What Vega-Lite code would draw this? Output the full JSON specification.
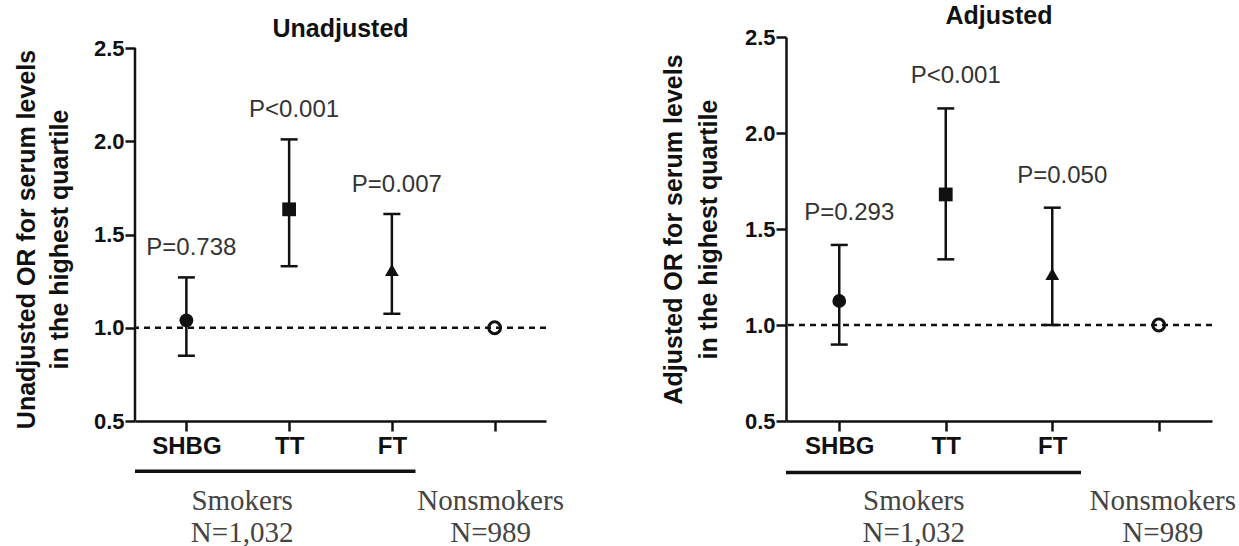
{
  "$schema": "https://vega.github.io/schema/vega-lite/v6.json",
  "background": "white",
  "padding": {"left": 14, "top": 4, "right": 0, "bottom": 0},
  "spacing": 97,
  "config": {
    "view": {"stroke": null},
    "font": "Liberation Sans",
    "axis": {"domainColor": "#111", "domainWidth": 2.5, "tickColor": "#111", "tickWidth": 2.5, "tickSize": 10, "labelColor": "#111", "titleColor": "#111", "grid": false, "labelFont": "Liberation Sans", "titleFont": "Liberation Sans"},
    "title": {"font": "Liberation Sans", "fontSize": 25, "fontWeight": "bold", "color": "#111", "frame": "group"},
    "style": {"guide-title": {"lineBreak": "\n"}}
  },
  "datasets": {
    "unadj": [
      {"x": 1, "marker": "SHBG", "or": 1.04, "lo": 0.85, "hi": 1.27, "p": "P=0.738"},
      {"x": 2, "marker": "TT", "or": 1.635, "lo": 1.33, "hi": 2.01, "p": "P<0.001"},
      {"x": 3, "marker": "FT", "or": 1.31, "lo": 1.075, "hi": 1.61, "p": "P=0.007"},
      {"x": 4, "marker": "Nonsmokers", "or": 1.0, "lo": null, "hi": null, "p": ""}
    ],
    "adj": [
      {"x": 1, "marker": "SHBG", "or": 1.125, "lo": 0.898, "hi": 1.417, "p": "P=0.293"},
      {"x": 2, "marker": "TT", "or": 1.68, "lo": 1.342, "hi": 2.128, "p": "P<0.001"},
      {"x": 3, "marker": "FT", "or": 1.266, "lo": 1.0, "hi": 1.611, "p": "P=0.050"},
      {"x": 4, "marker": "Nonsmokers", "or": 1.0, "lo": null, "hi": null, "p": ""}
    ],
    "groups": [
      {"x": 2, "group": "Smokers", "label": "Smokers\nN=1,032"},
      {"x": 4, "group": "Nonsmokers", "label": "Nonsmokers\nN=989"}
    ],
    "ref": [{"ref": 1.0}]
  },
  "hconcat": [
    {
      "title": {"text": "Unadjusted", "offset": -5},
      "width": 411,
      "height": 384,
      "layer": [
        {
          "data": {"name": "ref"},
          "mark": {"type": "rule", "strokeDash": [6, 5], "strokeWidth": 2.5, "color": "#111"},
          "encoding": {"y": {"field": "ref", "type": "quantitative", "scale": {"domain": [0.5, 2.559]}}}
        },
        {
          "data": {"name": "ref"},
          "mark": {"type": "rule", "strokeWidth": 2.5, "color": "#111"},
          "encoding": {
            "x": {"datum": 0.5, "type": "quantitative", "scale": {"domain": [0.5, 4.5]}},
            "y": {"datum": 0.5, "type": "quantitative", "scale": {"domain": [0.5, 2.559]}},
            "y2": {"datum": 2.5}
          }
        },
        {
          "data": {"name": "unadj"},
          "transform": [{"filter": "datum.lo != null"}],
          "mark": {"type": "rule", "strokeWidth": 2.5, "color": "#111"},
          "encoding": {
            "x": {"field": "x", "type": "quantitative", "scale": {"domain": [0.5, 4.5]}},
            "y": {"field": "lo", "type": "quantitative", "scale": {"domain": [0.5, 2.559]}},
            "y2": {"field": "hi"}
          }
        },
        {
          "data": {"name": "unadj"},
          "transform": [{"filter": "datum.lo != null"}],
          "mark": {"type": "tick", "orient": "horizontal", "size": 17, "thickness": 2.5, "color": "#111", "opacity": 1},
          "encoding": {
            "x": {"field": "x", "type": "quantitative", "scale": {"domain": [0.5, 4.5]}},
            "y": {"field": "lo", "type": "quantitative", "scale": {"domain": [0.5, 2.559]}}
          }
        },
        {
          "data": {"name": "unadj"},
          "transform": [{"filter": "datum.lo != null"}],
          "mark": {"type": "tick", "orient": "horizontal", "size": 17, "thickness": 2.5, "color": "#111", "opacity": 1},
          "encoding": {
            "x": {"field": "x", "type": "quantitative", "scale": {"domain": [0.5, 4.5]}},
            "y": {"field": "hi", "type": "quantitative", "scale": {"domain": [0.5, 2.559]}}
          }
        },
        {
          "data": {"name": "unadj"},
          "transform": [{"filter": "datum.marker != 'Nonsmokers'"}],
          "mark": {"type": "point", "filled": true, "color": "#111", "opacity": 1, "size": 190},
          "encoding": {
            "x": {"field": "x", "type": "quantitative", "scale": {"domain": [0.5, 4.5]},
              "axis": {"values": [1, 2, 3, 4], "labelExpr": "datum.value == 1 ? 'SHBG' : datum.value == 2 ? 'TT' : datum.value == 3 ? 'FT' : ''", "title": null, "labelFontSize": 24, "labelFontWeight": "bold", "labelPadding": 3}},
            "y": {"field": "or", "type": "quantitative", "scale": {"domain": [0.5, 2.559]},
              "axis": {"values": [0.5, 1, 1.5, 2, 2.5], "format": ".1f", "domain": false, "title": "Unadjusted OR for serum levels\nin the highest quartile", "titleFontSize": 25, "titleFontWeight": "bold", "titleLineHeight": 33, "titlePadding": 21, "titleY": 202, "labelFontSize": 22, "labelFontWeight": "bold", "labelPadding": 1}},
            "shape": {"field": "marker", "type": "nominal", "scale": {"domain": ["SHBG", "TT", "FT"], "range": ["circle", "square", "triangle-up"]}, "legend": null}
          }
        },
        {
          "data": {"name": "unadj"},
          "transform": [{"filter": "datum.marker == 'Nonsmokers'"}],
          "mark": {"type": "point", "filled": false, "color": "#111", "strokeWidth": 3, "opacity": 1, "size": 140},
          "encoding": {
            "x": {"field": "x", "type": "quantitative", "scale": {"domain": [0.5, 4.5]}},
            "y": {"field": "or", "type": "quantitative", "scale": {"domain": [0.5, 2.559]}}
          }
        },
        {
          "data": {"name": "unadj"},
          "transform": [{"filter": "datum.p != ''"}],
          "mark": {"type": "text", "fontSize": 24, "color": "#333", "dy": -29, "dx": 5, "baseline": "middle", "font": "Liberation Sans"},
          "encoding": {
            "x": {"field": "x", "type": "quantitative", "scale": {"domain": [0.5, 4.5]}},
            "y": {"field": "hi", "type": "quantitative", "scale": {"domain": [0.5, 2.559]}},
            "text": {"field": "p"}
          }
        },
        {
          "data": {"name": "groups"},
          "transform": [{"filter": "datum.group == 'Smokers'"}],
          "mark": {"type": "rule", "strokeWidth": 3.5, "color": "#111"},
          "encoding": {
            "x": {"datum": 0.5, "type": "quantitative", "scale": {"domain": [0.5, 4.5]}},
            "x2": {"datum": 3.23},
            "y": {"datum": 0.23, "type": "quantitative", "scale": {"domain": [0.5, 2.559]}}
          }
        },
        {
          "data": {"name": "groups"},
          "transform": [{"filter": "datum.group == 'Smokers'"}],
          "mark": {"type": "text", "font": "Liberation Serif", "fontSize": 29, "color": "#444", "lineBreak": "\n", "lineHeight": 32, "baseline": "alphabetic", "dy": 89, "dx": -47},
          "encoding": {
            "x": {"field": "x", "type": "quantitative", "scale": {"domain": [0.5, 4.5]}},
            "y": {"datum": 0.5, "type": "quantitative", "scale": {"domain": [0.5, 2.559]}},
            "text": {"field": "label"}
          }
        },
        {
          "data": {"name": "groups"},
          "transform": [{"filter": "datum.group == 'Nonsmokers'"}],
          "mark": {"type": "text", "font": "Liberation Serif", "fontSize": 29, "color": "#444", "lineBreak": "\n", "lineHeight": 32, "baseline": "alphabetic", "dy": 89, "dx": -4},
          "encoding": {
            "x": {"field": "x", "type": "quantitative", "scale": {"domain": [0.5, 4.5]}},
            "y": {"datum": 0.5, "type": "quantitative", "scale": {"domain": [0.5, 2.559]}},
            "text": {"field": "label"}
          }
        }
      ]
    },
    {
      "title": {"text": "Adjusted", "offset": -3},
      "width": 426,
      "height": 384,
      "layer": [
        {
          "data": {"name": "ref"},
          "mark": {"type": "rule", "strokeDash": [6, 5], "strokeWidth": 2.5, "color": "#111"},
          "encoding": {"y": {"field": "ref", "type": "quantitative", "scale": {"domain": [0.5, 2.5]}}}
        },
        {
          "data": {"name": "adj"},
          "transform": [{"filter": "datum.lo != null"}],
          "mark": {"type": "rule", "strokeWidth": 2.5, "color": "#111"},
          "encoding": {
            "x": {"field": "x", "type": "quantitative", "scale": {"domain": [0.5, 4.5]}},
            "y": {"field": "lo", "type": "quantitative", "scale": {"domain": [0.5, 2.5]}},
            "y2": {"field": "hi"}
          }
        },
        {
          "data": {"name": "adj"},
          "transform": [{"filter": "datum.lo != null"}],
          "mark": {"type": "tick", "orient": "horizontal", "size": 17, "thickness": 2.5, "color": "#111", "opacity": 1},
          "encoding": {
            "x": {"field": "x", "type": "quantitative", "scale": {"domain": [0.5, 4.5]}},
            "y": {"field": "lo", "type": "quantitative", "scale": {"domain": [0.5, 2.5]}}
          }
        },
        {
          "data": {"name": "adj"},
          "transform": [{"filter": "datum.lo != null"}],
          "mark": {"type": "tick", "orient": "horizontal", "size": 17, "thickness": 2.5, "color": "#111", "opacity": 1},
          "encoding": {
            "x": {"field": "x", "type": "quantitative", "scale": {"domain": [0.5, 4.5]}},
            "y": {"field": "hi", "type": "quantitative", "scale": {"domain": [0.5, 2.5]}}
          }
        },
        {
          "data": {"name": "adj"},
          "transform": [{"filter": "datum.marker != 'Nonsmokers'"}],
          "mark": {"type": "point", "filled": true, "color": "#111", "opacity": 1, "size": 190},
          "encoding": {
            "x": {"field": "x", "type": "quantitative", "scale": {"domain": [0.5, 4.5]},
              "axis": {"values": [1, 2, 3, 4], "labelExpr": "datum.value == 1 ? 'SHBG' : datum.value == 2 ? 'TT' : datum.value == 3 ? 'FT' : ''", "title": null, "labelFontSize": 24, "labelFontWeight": "bold", "labelPadding": 3}},
            "y": {"field": "or", "type": "quantitative", "scale": {"domain": [0.5, 2.5]},
              "axis": {"values": [0.5, 1, 1.5, 2, 2.5], "format": ".1f", "title": "Adjusted OR for serum levels\nin the highest quartile", "titleFontSize": 25, "titleFontWeight": "bold", "titleLineHeight": 35, "titlePadding": 23, "labelFontSize": 22, "labelFontWeight": "bold", "labelPadding": 1}},
            "shape": {"field": "marker", "type": "nominal", "scale": {"domain": ["SHBG", "TT", "FT"], "range": ["circle", "square", "triangle-up"]}, "legend": null}
          }
        },
        {
          "data": {"name": "adj"},
          "transform": [{"filter": "datum.marker == 'Nonsmokers'"}],
          "mark": {"type": "point", "filled": false, "color": "#111", "strokeWidth": 3, "opacity": 1, "size": 140},
          "encoding": {
            "x": {"field": "x", "type": "quantitative", "scale": {"domain": [0.5, 4.5]}},
            "y": {"field": "or", "type": "quantitative", "scale": {"domain": [0.5, 2.5]}}
          }
        },
        {
          "data": {"name": "adj"},
          "transform": [{"filter": "datum.p != ''"}],
          "mark": {"type": "text", "fontSize": 24, "color": "#333", "dy": -32, "dx": 10, "baseline": "middle", "font": "Liberation Sans"},
          "encoding": {
            "x": {"field": "x", "type": "quantitative", "scale": {"domain": [0.5, 4.5]}},
            "y": {"field": "hi", "type": "quantitative", "scale": {"domain": [0.5, 2.5]}},
            "text": {"field": "p"}
          }
        },
        {
          "data": {"name": "groups"},
          "transform": [{"filter": "datum.group == 'Smokers'"}],
          "mark": {"type": "rule", "strokeWidth": 3.5, "color": "#111"},
          "encoding": {
            "x": {"datum": 0.5, "type": "quantitative", "scale": {"domain": [0.5, 4.5]}},
            "x2": {"datum": 3.27},
            "y": {"datum": 0.232, "type": "quantitative", "scale": {"domain": [0.5, 2.5]}}
          }
        },
        {
          "data": {"name": "groups"},
          "transform": [{"filter": "datum.group == 'Smokers'"}],
          "mark": {"type": "text", "font": "Liberation Serif", "fontSize": 29, "color": "#444", "lineBreak": "\n", "lineHeight": 32, "baseline": "alphabetic", "dy": 89, "dx": -32},
          "encoding": {
            "x": {"field": "x", "type": "quantitative", "scale": {"domain": [0.5, 4.5]}},
            "y": {"datum": 0.5, "type": "quantitative", "scale": {"domain": [0.5, 2.5]}},
            "text": {"field": "label"}
          }
        },
        {
          "data": {"name": "groups"},
          "transform": [{"filter": "datum.group == 'Nonsmokers'"}],
          "mark": {"type": "text", "font": "Liberation Serif", "fontSize": 29, "color": "#444", "lineBreak": "\n", "lineHeight": 32, "baseline": "alphabetic", "dy": 89, "dx": 4},
          "encoding": {
            "x": {"field": "x", "type": "quantitative", "scale": {"domain": [0.5, 4.5]}},
            "y": {"datum": 0.5, "type": "quantitative", "scale": {"domain": [0.5, 2.5]}},
            "text": {"field": "label"}
          }
        }
      ]
    }
  ]
}
